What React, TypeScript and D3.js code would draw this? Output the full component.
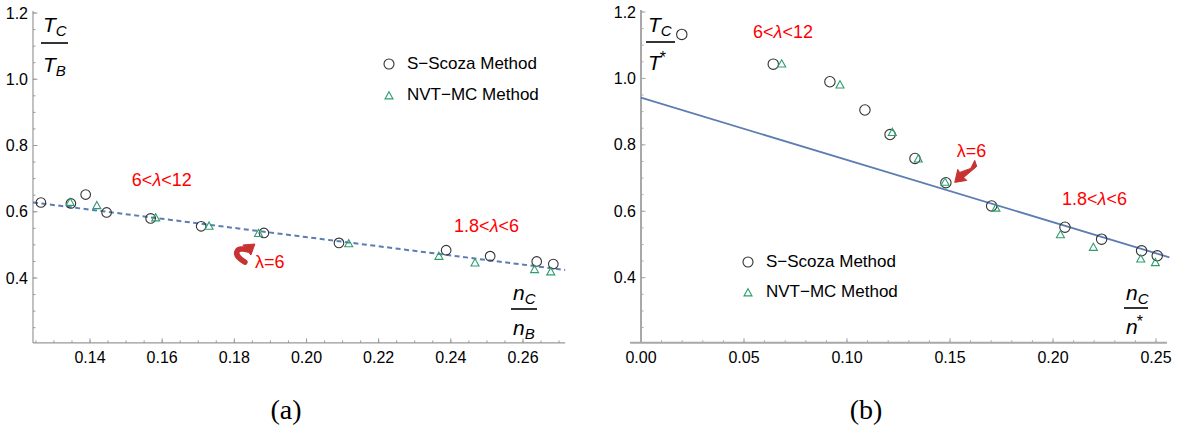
import React from 'react';
import * as d3 from 'd3';

// ---- panel (a) data ----
const scozaA_n = [0.1264, 0.1347, 0.1388, 0.1446, 0.1568, 0.1708, 0.1882, 0.209, 0.2387, 0.2509, 0.2638, 0.2684];
const scozaA_t = [0.628, 0.625, 0.652, 0.598, 0.58, 0.556, 0.536, 0.506, 0.484, 0.466, 0.45, 0.442];
const mcA_n = [0.1345, 0.1419, 0.1582, 0.173, 0.1867, 0.2117, 0.2367, 0.2467, 0.2632, 0.2677];
const mcA_t = [0.628, 0.618, 0.581, 0.556, 0.534, 0.503, 0.465, 0.445, 0.425, 0.418];
const fitA = { intercept: 0.8, slope: -1.383 };

// ---- panel (b) data ----
const scozaB_n = [0.0198, 0.0642, 0.0917, 0.1087, 0.1209, 0.133, 0.148, 0.1702, 0.2058, 0.2236, 0.243, 0.2506];
const scozaB_t = [1.1325, 1.043, 0.99, 0.905, 0.831, 0.759, 0.686, 0.616, 0.552, 0.516, 0.481, 0.466];
const mcB_n = [0.0683, 0.0966, 0.122, 0.1346, 0.1476, 0.1723, 0.2036, 0.2196, 0.2426, 0.2497];
const mcB_t = [1.043, 0.98, 0.837, 0.757, 0.687, 0.609, 0.529, 0.491, 0.456, 0.445];
const fitB = { intercept: 0.942, slope: -1.874 };

// ---- ticks ----
const xTicksA = [0.14, 0.16, 0.18, 0.2, 0.22, 0.24, 0.26];
const xTicksB = [0, 0.05, 0.1, 0.15, 0.2, 0.25];
const yTicks = [0.4, 0.6, 0.8, 1.0, 1.2];

const legendLabels = ['S\u2212Scoza Method', 'NVT\u2212MC Method'];

const FONT = 'Liberation Sans, Arial, sans-serif';
const RED = '#ff0000';
const ARROW = '#c83232';
const CIRCLE = '#333333';
const TRI = '#2e9e6e';
const LINE = '#5b7db3';

const tri = (cx: number, cy: number, s: number) => {
  const h = s * 0.9;
  return `M${cx},${cy - h * 0.6}L${cx + s / 2},${cy + h * 0.4}L${cx - s / 2},${cy + h * 0.4}Z`;
};

function Axes({ x, y, xMin, xMax, yMin, xMinor, yMinor, xTicks, xFmt, axisW, axisC }: any) {
  const x0 = x(xMin);
  const y0 = y(yMin);
  const yAxisX = x(Math.max(xMin, 0) === 0 ? 0 : xMin);
  return (
    <g fontFamily={FONT} fontSize={16}>
      <line x1={x0} x2={x(xMax)} y1={y0} y2={y0} stroke={axisC} strokeWidth={axisW} />
      <line x1={yAxisX} x2={yAxisX} y1={y0} y2={y(1.2) - 2} stroke={axisC} strokeWidth={axisW} />
      {xMinor.map((v: number, i: number) => (
        <line key={'xm' + i} x1={x(v)} x2={x(v)} y1={y0} y2={y0 - 2.5} stroke={axisC} strokeWidth={1} />
      ))}
      {xTicks.map((v: number, i: number) => (
        <g key={'xt' + i}>
          <line x1={x(v)} x2={x(v)} y1={y0} y2={y0 - 4.5} stroke={axisC} strokeWidth={1} />
          <text x={x(v)} y={y0 + 20} textAnchor="middle" fill="#000">{xFmt(v)}</text>
        </g>
      ))}
      {yMinor.map((v: number, i: number) => (
        <line key={'ym' + i} x1={yAxisX} x2={yAxisX + 2.5} y1={y(v)} y2={y(v)} stroke={axisC} strokeWidth={1} />
      ))}
      {yTicks.map((v: number, i: number) => (
        <g key={'yt' + i}>
          <line x1={yAxisX} x2={yAxisX + 4.5} y1={y(v)} y2={y(v)} stroke={axisC} strokeWidth={1} />
          <text x={yAxisX - 5} y={y(v) + 5.5} textAnchor="end" fill="#000">{v.toFixed(1)}</text>
        </g>
      ))}
    </g>
  );
}

function Frac({ x, yNum, yBar, yDen, w, base, num, den, sup }: any) {
  return (
    <g fontFamily={FONT} fontStyle="italic" fill="#000">
      <text x={x + 2} y={yNum} fontSize={21}>
        {base}
        <tspan fontSize={15} dy={4}>{num}</tspan>
      </text>
      <line x1={x} x2={x + w} y1={yBar} y2={yBar} stroke="#000" strokeWidth={1.6} />
      <text x={x + 2} y={yDen} fontSize={21}>
        {base}
        {sup ? (
          <tspan fontSize={16} dy={-7} dx={-1} fontStyle="normal">{den}</tspan>
        ) : (
          <tspan fontSize={15} dy={4}>{den}</tspan>
        )}
      </text>
    </g>
  );
}

function RangeLabel({ x, y, pre, post }: any) {
  return (
    <text x={x} y={y} fill={RED} fontFamily={FONT} fontSize={18}>
      {pre}
      <tspan fontStyle="italic">λ</tspan>
      {post}
    </text>
  );
}

function Legend({ cx, y1, y2 }: any) {
  return (
    <g fontFamily={FONT} fontSize={17} fill="#000">
      <circle cx={cx} cy={y1 - 5} r={5} fill="none" stroke={CIRCLE} strokeWidth={1.1} />
      <text x={cx + 18} y={y1}>{legendLabels[0]}</text>
      <path d={tri(cx, y2 - 4, 8)} fill="none" stroke={TRI} strokeWidth={1.1} />
      <text x={cx + 18} y={y2}>{legendLabels[1]}</text>
    </g>
  );
}

export default function App() {
  // panel (a)
  const xA = d3.scaleLinear().domain([0.14, 0.26]).range([90, 523]);
  const yA = d3.scaleLinear().domain([0.4, 1.2]).range([278, 13]);
  // panel (b)
  const xB = d3.scaleLinear().domain([0, 0.25]).range([641, 1156]);
  const yB = d3.scaleLinear().domain([0.4, 1.2]).range([277.7, 12]);

  const yMinorVals = d3.range(0.25, 1.2001, 0.05);
  const xMinorA = d3.range(0.125, 0.2701, 0.005);
  const xMinorB = d3.range(0, 0.2501, 0.01);

  const lineA = d3.line<number>().x((v) => xA(v)).y((v) => yA(fitA.intercept + fitA.slope * v));
  const lineB = d3.line<number>().x((v) => xB(v)).y((v) => yB(fitB.intercept + fitB.slope * v));

  // left arrow tip (data coords)
  const laX = xA(0.1857), laY = yA(0.5026);
  // right arrow tip (data coords)
  const raX = xB(0.1523), raY = yB(0.687);

  return (
    <svg width={1183} height={436} style={{ position: 'absolute', left: 0, top: 0, background: '#fff' }}>
      <rect width={1183} height={436} fill="#fff" />

      {/* ---------- panel (a) ---------- */}
      <Axes x={xA} y={yA} xMin={0.1242} xMax={0.2717} yMin={0.204} xMinor={xMinorA} yMinor={yMinorVals}
        xTicks={xTicksA} xFmt={(v: number) => v.toFixed(2)} axisW={1.2} axisC="#999" />
      <path d={lineA([0.1242, 0.2717]) || ''} fill="none" stroke={LINE} strokeWidth={2} strokeDasharray="5,3.5" />
      {scozaA_n.map((n, i) => (
        <circle key={'ca' + i} cx={xA(n)} cy={yA(scozaA_t[i])} r={4.8} fill="none" stroke={CIRCLE} strokeWidth={1.1} />
      ))}
      {mcA_n.map((n, i) => (
        <path key={'ta' + i} d={tri(xA(n), yA(mcA_t[i]), 8)} fill="none" stroke={TRI} strokeWidth={1.1} />
      ))}
      <Frac x={41} yNum={32} yBar={43} yDen={72} w={27} base="T" num="C" den="B" />
      <Frac x={511} yNum={300} yBar={309} yDen={335} w={26} base="n" num="C" den="B" />
      <RangeLabel x={xA(0.1516)} y={yA(0.678)} pre="6<" post="<12" />
      <RangeLabel x={xA(0.2409)} y={yA(0.5389)} pre="1.8<" post="<6" />
      <text x={laX} y={laY + 24} fill={RED} fontFamily={FONT} fontSize={18}>λ=6</text>
      <g fill={ARROW} stroke={ARROW}>
        <path d={`M${laX - 7},${laY + 6} C${laX - 18},${laY + 2} ${laX - 24},${laY + 10} ${laX - 10},${laY + 18}`}
          fill="none" strokeWidth={5.5} strokeLinecap="round" />
        <path d={`M${laX},${laY} L${laX - 12},${laY + 1} L${laX - 4},${laY + 11} Z`} strokeWidth={1} />
      </g>
      <Legend cx={389} y1={69} y2={100} />
      <text x={286} y={419} textAnchor="middle" fontFamily="Liberation Serif, serif" fontSize={28}>(a)</text>

      {/* ---------- panel (b) ---------- */}
      <Axes x={xB} y={yB} xMin={-0.0053} xMax={0.2553} yMin={0.2043} xMinor={xMinorB} yMinor={yMinorVals}
        xTicks={xTicksB} xFmt={(v: number) => v.toFixed(2)} axisW={2} axisC="#a8a8a8" />
      <path d={lineB([0, 0.2565]) || ''} fill="none" stroke={LINE} strokeWidth={1.8} />
      {scozaB_n.map((n, i) => (
        <circle key={'cb' + i} cx={xB(n)} cy={yB(scozaB_t[i])} r={5.2} fill="none" stroke={CIRCLE} strokeWidth={1.1} />
      ))}
      {mcB_n.map((n, i) => (
        <path key={'tb' + i} d={tri(xB(n), yB(mcB_t[i]), 8)} fill="none" stroke={TRI} strokeWidth={1.1} />
      ))}
      <Frac x={646} yNum={32} yBar={42} yDen={70} w={29} base="T" num="C" den="*" sup />
      <Frac x={1124} yNum={300} yBar={308} yDen={334} w={24} base="n" num="C" den="*" sup />
      <RangeLabel x={xB(0.0544)} y={yB(1.1218)} pre="6<" post="<12" />
      <RangeLabel x={xB(0.2044)} y={yB(0.619)} pre="1.8<" post="<6" />
      <text x={raX + 2} y={raY - 25} fill={RED} fontFamily={FONT} fontSize={18}>λ=6</text>
      <path
        d={`M${raX},${raY} L${raX + 12},${raY - 2} L${raX + 9},${raY - 5} L${raX + 22},${raY - 16} L${raX + 20},${raY - 22} L${raX + 16},${raY - 14} L${raX + 5},${raY - 10} L${raX + 3},${raY - 13} Z`}
        fill={ARROW} stroke={ARROW} strokeWidth={1} strokeLinejoin="round" />
      <Legend cx={748} y1={267} y2={297} />
      <text x={866} y={419} textAnchor="middle" fontFamily="Liberation Serif, serif" fontSize={28}>(b)</text>
    </svg>
  );
}
